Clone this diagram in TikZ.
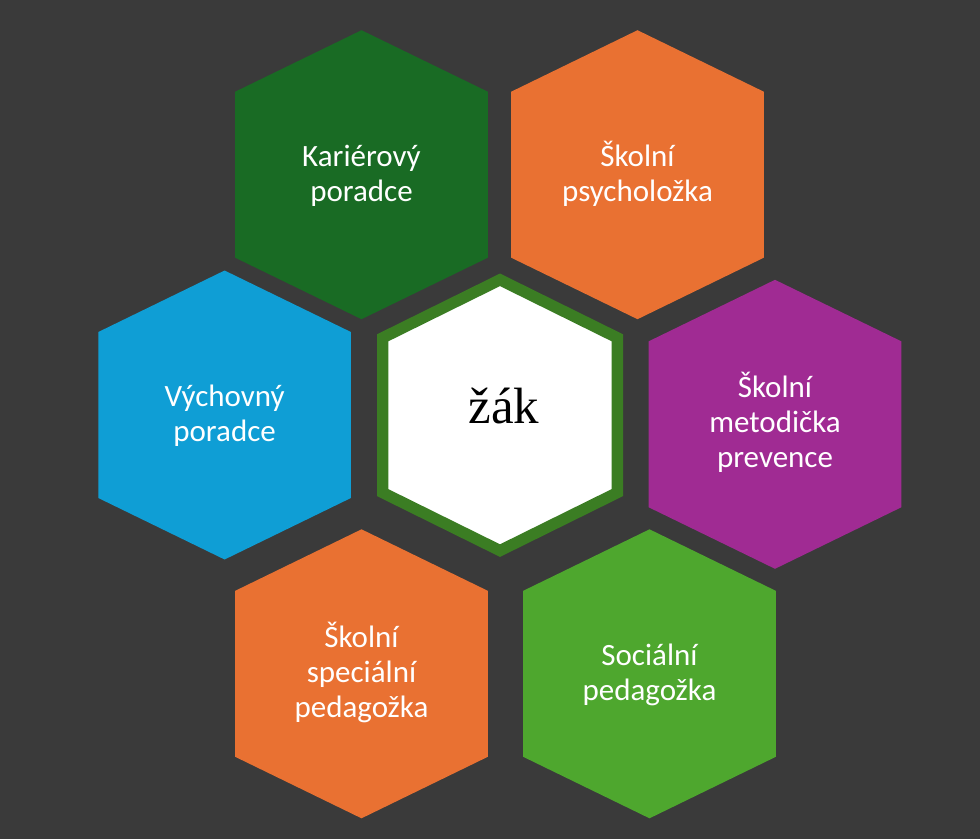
\documentclass[tikz,border=0pt]{standalone}
\usepackage{fontspec}
\setmainfont{Carlito}
\newfontfamily\zakfont{Liberation Serif}
\usepackage{tikz}
\definecolor{backdrop}{HTML}{3A3A3A}
\definecolor{tmavezelena}{HTML}{196B24}
\definecolor{oranzova}{HTML}{E97132}
\definecolor{modra}{HTML}{0F9ED5}
\definecolor{fialova}{HTML}{A02B93}
\definecolor{zelena}{HTML}{4EA72E}
\definecolor{okraj}{HTML}{3B7D23}
% outer hexagon, pointy top, around a named centre
\newcommand{\hexcell}[1]{(#1) ++(0,-144.5) -- ++(126.3,61.5) -- ++(0,166) -- ++(-126.3,61.5) -- ++(-126.3,-61.5) -- ++(0,-166) -- cycle}
\tikzset{hexlabel/.style={text=white, align=center, inner sep=0pt,
      font=\fontsize{31}{35}\selectfont}}

\begin{document}
\begin{tikzpicture}[x=1pt,y=-1pt]
    \fill[backdrop] (0,0) rectangle (980,839);
    \useasboundingbox (0,0) rectangle (980,839);

    \path (361.5,174.7) coordinate(kariera);
    \path (637.5,174.7) coordinate(psycho);
    \path (224.6,415) coordinate(vychova);
    \path (775,424.3) coordinate(metodik);
    \path (361.5,673.8) coordinate(specped);
    \path (649.5,673.8) coordinate(socped);
    \path (500,415.2) coordinate(zak);

    \fill[tmavezelena] \hexcell{kariera};
    \fill[oranzova] \hexcell{psycho};
    \fill[modra] \hexcell{vychova};
    \fill[fialova] \hexcell{metodik};
    \fill[oranzova] \hexcell{specped};
    \fill[zelena] \hexcell{socped};
    \filldraw[fill=white, draw=okraj, line width=11.3pt] (zak) ++(0,-135.4) -- ++(117.35,58) -- ++(0,154.8) -- ++(-117.35,58) -- ++(-117.35,-58) -- ++(0,-154.8) -- cycle;

    \node[hexlabel] (karieratext) at (361.5,177.2) {\strut Kariérový\\\strut poradce};
    \node[hexlabel] (psychotext) at (637.5,176.4) {\strut Školní\\\strut psycholožka};
    \node[hexlabel] (vychovatext) at (224.6,417.2) {\strut Výchovný\\\strut poradce};
    \node[hexlabel] (metodiktext) at (775,425.4) {\strut Školní\\\strut metodička\\\strut prevence};
    \node[hexlabel] (specpedtext) at (361.5,675.4) {\strut Školní\\\strut speciální\\\strut pedagožka};
    \node[hexlabel] (socpedtext) at (649.5,675.5) {\strut Sociální\\\strut pedagožka};
    \node[anchor=base, inner sep=0pt, font=\zakfont\fontsize{51}{57}\selectfont] (zaktext) at (504,423.3) {žák};
  \end{tikzpicture}
\end{document}
